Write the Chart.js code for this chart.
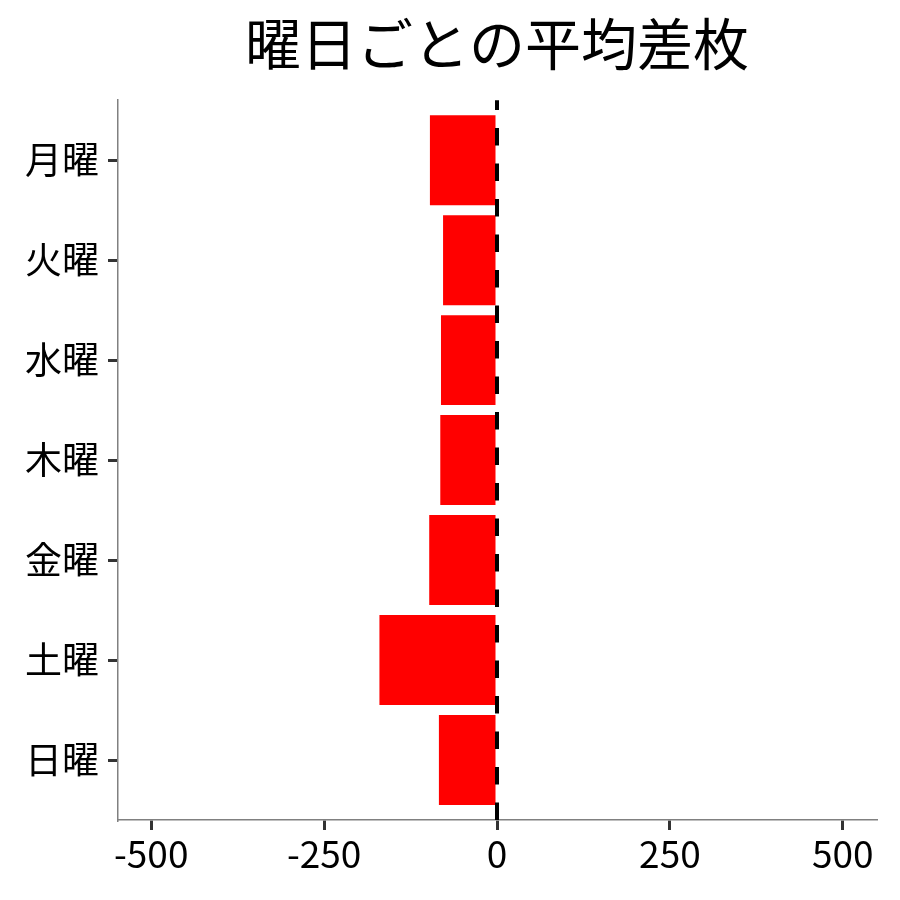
<!DOCTYPE html>
<html lang="ja">
<head>
  <meta charset="UTF-8" />
  <title>曜日ごとの平均差枚</title>
  <script src="https://cdn.jsdelivr.net/npm/chart.js"></script>
  <style>
    html, body { margin: 0; padding: 0; background: #fff; }
    #wrap { width: 900px; height: 900px; }
  </style>
</head>
<body>
  <div id="wrap"><canvas id="diffChart" width="900" height="900"></canvas></div>

  <script>
    const days = ["月曜", "火曜", "水曜", "木曜", "金曜", "土曜", "日曜"];
    const avgDiff = [-97, -78, -81, -82, -98, -170, -84];
    const xTicks = [-500, -250, 0, 250, 500];

    const FONT = "'Noto Sans CJK JP', 'Noto Sans', sans-serif";

    // dashed reference line at x = 0, drawn bottom to top
    const zeroLine = {
      id: "zeroLine",
      afterDatasetsDraw(chart) {
        const { ctx, chartArea, scales } = chart;
        const x = scales.x.getPixelForValue(0);
        ctx.save();
        ctx.strokeStyle = "#000";
        ctx.lineWidth = 4;
        ctx.setLineDash([17.5, 18]);
        ctx.beginPath();
        ctx.moveTo(x, chartArea.bottom);
        ctx.lineTo(x, chartArea.top);
        ctx.stroke();
        ctx.restore();
      }
    };

    const tickGrid = {
      drawOnChartArea: false,
      offset: false,
      lineWidth: 3,
      tickLength: 10,
      tickWidth: 3,
      tickColor: "#333",
      color: "#333"
    };

    new Chart(document.getElementById("diffChart"), {
      type: "bar",
      data: {
        datasets: [{
          data: days.map((d, i) => ({ x: avgDiff[i], y: i })),
          backgroundColor: "#ff0000",
          barPercentage: 0.9,
          categoryPercentage: 1.0
        }]
      },
      options: {
        indexAxis: "y",
        responsive: false,
        animation: false,
        layout: { padding: { left: 0, right: 24, top: 0, bottom: 0 } },
        plugins: {
          legend: { display: false },
          tooltip: { enabled: false },
          title: {
            display: true,
            fullSize: false,
            text: "曜日ごとの平均差枚",
            color: "#000",
            font: { family: FONT, size: 56, weight: "normal" },
            padding: { top: 10, bottom: 23 }
          }
        },
        scales: {
          x: {
            type: "linear",
            min: -548,
            max: 548,
            afterBuildTicks: s => { s.ticks = xTicks.map(v => ({ value: v })); },
            afterFit: s => { s.height = 80; },
            grid: tickGrid,
            border: { display: true, color: "#808080", width: 1.5 },
            ticks: { color: "#000", font: { family: FONT, size: 37 }, padding: 2, maxRotation: 0 }
          },
          y: {
            type: "linear",
            reverse: true,
            offset: false,
            min: -0.6,
            max: 6.6,
            afterBuildTicks: s => { s.ticks = days.map((d, i) => ({ value: i })); },
            afterFit: s => { s.width = 118; },
            grid: tickGrid,
            border: { display: true, color: "#808080", width: 1.5 },
            ticks: {
              color: "#000",
              font: { family: FONT, size: 37 },
              padding: 9,
              callback: v => days[v]
            }
          }
        }
      },
      plugins: [zeroLine]
    });
  </script>
</body>
</html>
